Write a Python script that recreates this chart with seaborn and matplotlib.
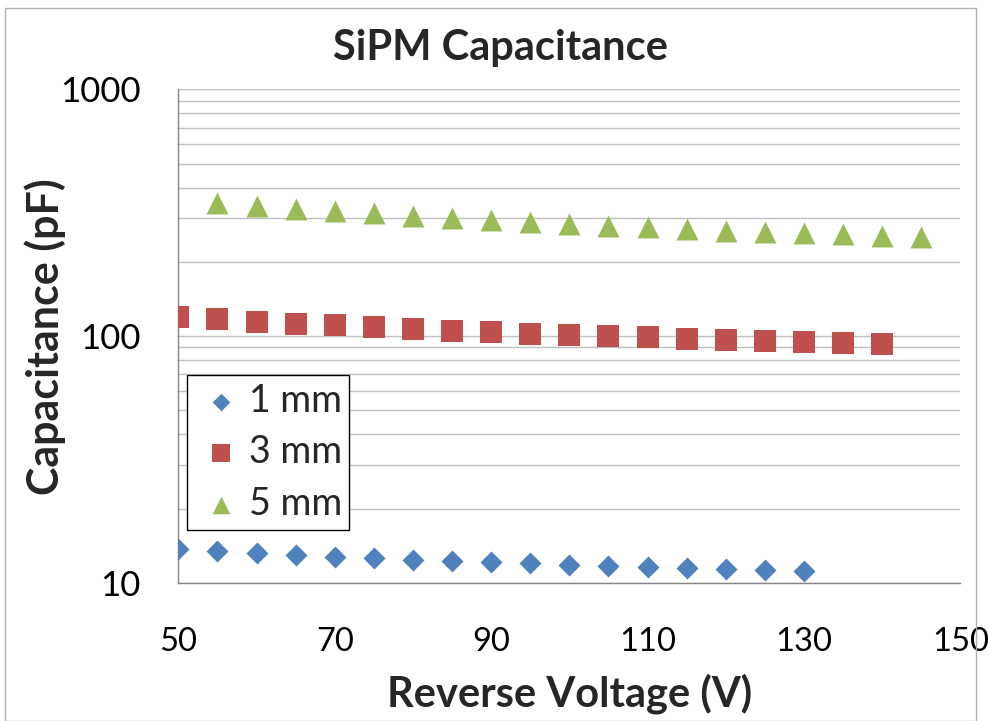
import matplotlib
matplotlib.use("Agg")
import matplotlib.pyplot as plt
import seaborn as sns
import pandas as pd
from matplotlib.ticker import FixedLocator, FixedFormatter, LogLocator, NullFormatter
from matplotlib.patches import Rectangle

# ---- data ----
volt_1mm = [50, 55, 60, 65, 70, 75, 80, 85, 90, 95, 100, 105, 110, 115, 120, 125, 130]
cap_1mm = [13.73, 13.45, 13.19, 12.98, 12.77, 12.57, 12.43, 12.30, 12.14, 12.00,
           11.85, 11.74, 11.61, 11.50, 11.39, 11.24, 11.19]

volt_3mm = [50, 55, 60, 65, 70, 75, 80, 85, 90, 95, 100, 105, 110, 115, 120, 125, 130, 135, 140]
cap_3mm = [120.1, 117.2, 114.3, 112.5, 110.8, 109.1, 107.1, 105.4, 103.8, 102.2,
           101.3, 99.7, 98.9, 97.4, 96.3, 95.6, 94.3, 93.4, 92.7]

volt_5mm = [55, 60, 65, 70, 75, 80, 85, 90, 95, 100, 105, 110, 115, 120, 125, 130, 135, 140, 145]
cap_5mm = [345.6, 336.7, 328.1, 320.5, 314.0, 307.3, 301.6, 294.9, 290.0, 285.5,
           280.7, 276.3, 271.8, 267.9, 264.7, 261.3, 258.2, 255.0, 251.8]

series_names = ["1 mm", "3 mm", "5 mm"]
x_ticks = [50, 70, 90, 110, 130, 150]
y_ticks = [10, 100, 1000]
y_tick_labels = ["10", "100", "1000"]
title = "SiPM Capacitance"
x_label = "Reverse Voltage (V)"
y_label = "Capacitance (pF)"

df = pd.concat([
    pd.DataFrame({"V": volt_1mm, "C": cap_1mm, "Size": series_names[0]}),
    pd.DataFrame({"V": volt_3mm, "C": cap_3mm, "Size": series_names[1]}),
    pd.DataFrame({"V": volt_5mm, "C": cap_5mm, "Size": series_names[2]}),
], ignore_index=True)

# ---- styling ----
sns.set_theme(style="white")
plt.rcParams["font.family"] = ["Lato", "DejaVu Sans"]

colors = {"1 mm": "#4F81BD", "3 mm": "#C0504D", "5 mm": "#9BBB59"}
markers = {"1 mm": "D", "3 mm": "s", "5 mm": "^"}
msizes = {"1 mm": 11.2 ** 2, "3 mm": 15.8 ** 2, "5 mm": 15.8 ** 2}

W, H = 988, 721
fig = plt.figure(figsize=(W / 100, H / 100), dpi=100)
ax_l, ax_r, ax_t, ax_b = 178.3, 960.3, 89.3, 583.0
ax = fig.add_axes([ax_l / W, 1 - ax_b / H, (ax_r - ax_l) / W, (ax_b - ax_t) / H])

for name in series_names:
    sub = df[df["Size"] == name]
    sns.scatterplot(data=sub, x="V", y="C", ax=ax, color=colors[name],
                    marker=markers[name], s=msizes[name], linewidth=0,
                    label=name, zorder=3)

ax.set_yscale("log")
ax.set_xlim(50, 150)
ax.set_ylim(10, 1000)

grid_c = "#BFBFBF"
axis_c = "#868686"
ax.yaxis.set_major_locator(FixedLocator(y_ticks))
ax.yaxis.set_major_formatter(FixedFormatter(y_tick_labels))
ax.yaxis.set_minor_locator(LogLocator(base=10, subs=[2, 3, 4, 5, 6, 7, 8, 9]))
ax.yaxis.set_minor_formatter(NullFormatter())
ax.xaxis.set_major_locator(FixedLocator(x_ticks))

ax.grid(True, which="both", axis="y", color=grid_c, linewidth=1.0, zorder=0)
ax.grid(False, axis="x")
ax.set_axisbelow(True)

for s in ["top", "right"]:
    ax.spines[s].set_visible(False)
for s in ["left", "bottom"]:
    ax.spines[s].set_color(axis_c)
    ax.spines[s].set_linewidth(1.0)

ax.tick_params(axis="y", which="both", direction="in", length=7, color=axis_c,
               width=1.0, labelsize=25, pad=27, labelcolor="black")
ax.tick_params(axis="x", which="major", direction="in", length=7, color=axis_c,
               width=1.0, labelsize=23.5, pad=32, labelcolor="black")
ax.tick_params(axis="x", which="minor", length=0)

ax.set_xlabel("")
ax.set_ylabel("")

leg = ax.legend(loc="upper left", bbox_to_anchor=(0.0107, 0.4213), borderaxespad=0,
                frameon=True, fancybox=False, framealpha=1, edgecolor="black",
                fontsize=27, handletextpad=0.0, labelspacing=0.42,
                borderpad=0.2, handlelength=1.45, markerscale=0.8)
leg.get_frame().set_linewidth(1.0)

fig.text(500 / W, 1 - 48 / H, title, ha="center", va="center",
         fontsize=30, fontweight="bold")
fig.text((ax_l + ax_r) / 2 / W, 1 - 694 / H, x_label, ha="center", va="center",
         fontsize=30, fontweight="bold")
fig.text(45 / W, 1 - ((ax_t + ax_b) / 2) / H, y_label, ha="center", va="center",
         rotation=90, fontsize=31, fontweight="bold")

fig.patches.append(Rectangle((5 / W, 0), (976 - 5) / W, 1 - 8 / H, transform=fig.transFigure,
                             fill=False, edgecolor="#B0B0B0", linewidth=1.0))

fig.savefig("out.png", dpi=100)
